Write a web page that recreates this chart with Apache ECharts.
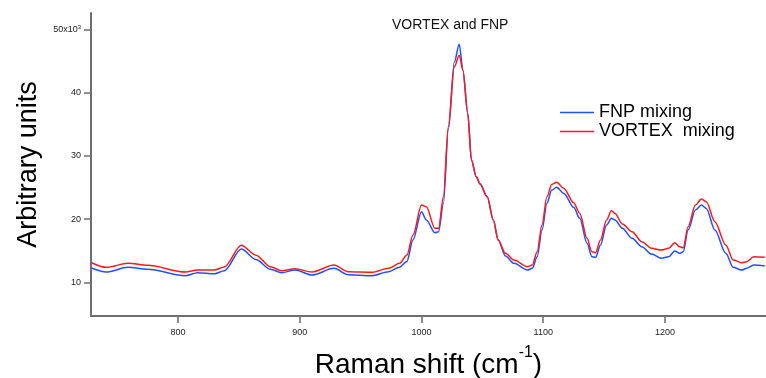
<!DOCTYPE html>
<html><head><meta charset="utf-8">
<script src="https://cdn.jsdelivr.net/npm/echarts@6/dist/echarts.min.js"></script>
<style>html,body{margin:0;padding:0;background:#fff}#c{width:766px;height:378px}</style>
</head><body><div id="c"></div>
<script>
const ramanShift = [729,741,759,775,806,816,830,838,852,864,876,885,896,910,928,940,959,973,982,988,993,1000,1004,1011,1014,1018,1022,1027,1031,1034,1038,1041,1045,1048,1054,1059,1063,1069,1076,1087,1091,1095,1099,1103,1107,1111,1117,1125,1130,1136,1140,1143,1147,1152,1156,1159,1165,1173,1181,1189,1197,1203,1208,1212,1215,1219,1225,1230,1234,1241,1250,1256,1263,1267,1273,1282];
const fnpMixing = [12.26,11.63,12.37,12.05,11.04,11.52,11.36,11.83,15.26,13.6,12.05,11.52,11.94,11.15,12.21,11.2,11.04,11.67,12.4,13.3,16.68,21.15,19.84,17.84,17.99,22.48,34.06,44.85,47.65,43.54,36.7,29.32,26.68,25.64,23.52,19.84,16.68,14.15,13.0,11.94,12.21,14.04,18.26,22.48,24.58,25.01,24.06,21.85,20.11,16.16,14.04,13.95,15.89,19.05,20.11,19.84,18.53,16.95,15.62,14.47,13.79,14.04,14.94,14.58,14.83,18.26,21.42,22.21,21.69,18.26,14.58,12.37,11.94,12.21,12.73,12.58];
const vortexMixing = [13.1,12.37,13.0,12.69,11.63,11.94,11.94,12.42,15.85,14.3,12.46,11.83,12.15,11.63,12.73,11.67,11.58,12.21,13.0,14.31,17.47,22.21,21.94,18.53,18.53,23.52,34.58,44.06,45.9,43.54,36.7,29.32,26.68,25.53,23.52,19.84,16.68,14.58,13.52,12.46,12.73,14.83,19.05,23.52,25.48,25.8,24.85,22.58,20.9,16.95,14.83,14.68,16.68,19.84,21.31,20.9,19.21,17.99,16.41,15.37,15.1,15.37,16.26,15.62,15.47,18.78,22.21,23.16,22.73,19.57,15.89,13.52,13.1,13.25,14.04,13.95];
const xTicks = [800,900,1000,1100,1200];
const yTicks = [10,20,30,40,50];
const seriesNames = ['FNP mixing','VORTEX  mixing'];

const FONT = 'Arial, "Liberation Sans", sans-serif';
const axisCol = '#6e6e6e';
const chart = echarts.init(document.getElementById('c'));
chart.setOption({
  animation: false,
  backgroundColor: '#fff',
  title: {
    text: 'VORTEX and FNP', left: 392, top: 18, padding: 0,
    textStyle: {fontFamily: FONT, fontSize: 14, fontWeight: 'normal', color: '#111'}
  },
  legend: {
    data: seriesNames, orient: 'vertical', left: 560, top: 103, padding: 0,
    itemGap: 0, itemWidth: 34, itemHeight: 1.5, icon: 'rect',
    textStyle: {fontFamily: FONT, fontSize: 18, color: '#000', lineHeight: 19}
  },
  grid: {left: 91, right: 0, top: 13, bottom: 62, outerBoundsMode: 'none', containLabel: false},
  xAxis: {
    type: 'value', min: 728.5, max: 1283,
    name: '{a|Raman shift (cm}{s|-1}{a|)}', nameLocation: 'middle', nameGap: 29,
    nameTextStyle: {rich: {
      a: {fontFamily: FONT, fontSize: 28, color: '#000', lineHeight: 40},
      s: {fontFamily: FONT, fontSize: 16, color: '#000', verticalAlign: 'top'}
    }},
    axisLine: {lineStyle: {color: axisCol, width: 2}},
    axisTick: {customValues: xTicks, length: 7, lineStyle: {color: axisCol, width: 1.5}},
    axisLabel: {customValues: xTicks, margin: 12, fontFamily: FONT, fontSize: 9, color: '#222',
      formatter: v => String(v)},
    splitLine: {show: false}
  },
  yAxis: {
    type: 'value', min: 4.68, max: 52.57,
    name: 'Arbitrary units', nameLocation: 'middle', nameRotate: 90, nameGap: 48,
    nameTextStyle: {fontFamily: FONT, fontSize: 27, color: '#000'},
    axisLine: {show: true, lineStyle: {color: axisCol, width: 2}},
    axisTick: {show: true, customValues: yTicks, length: 7, lineStyle: {color: axisCol, width: 1.5}},
    axisLabel: {
      customValues: yTicks, margin: 10, color: '#222',
      formatter: v => v === 50 ? '{a|50x10}{s|3}' : '{a|' + v + '}',
      rich: {
        a: {fontFamily: FONT, fontSize: 9, color: '#222'},
        s: {fontFamily: FONT, fontSize: 6, color: '#222', verticalAlign: 'top'}
      }
    },
    splitLine: {show: false}
  },
  series: [
    {name: seriesNames[0], type: 'line', data: ramanShift.map((x, i) => [x, fnpMixing[i]]),
     showSymbol: false, smooth: 0.3, smoothMonotone: 'x', lineStyle: {color: '#2050ff', width: 1.5}, itemStyle: {color: '#2050ff'}},
    {name: seriesNames[1], type: 'line', data: ramanShift.map((x, i) => [x, vortexMixing[i]]),
     showSymbol: false, smooth: 0.3, smoothMonotone: 'x', lineStyle: {color: '#ff1a1a', width: 1.5}, itemStyle: {color: '#ff1a1a'}}
  ]
});
</script>
</body></html>
